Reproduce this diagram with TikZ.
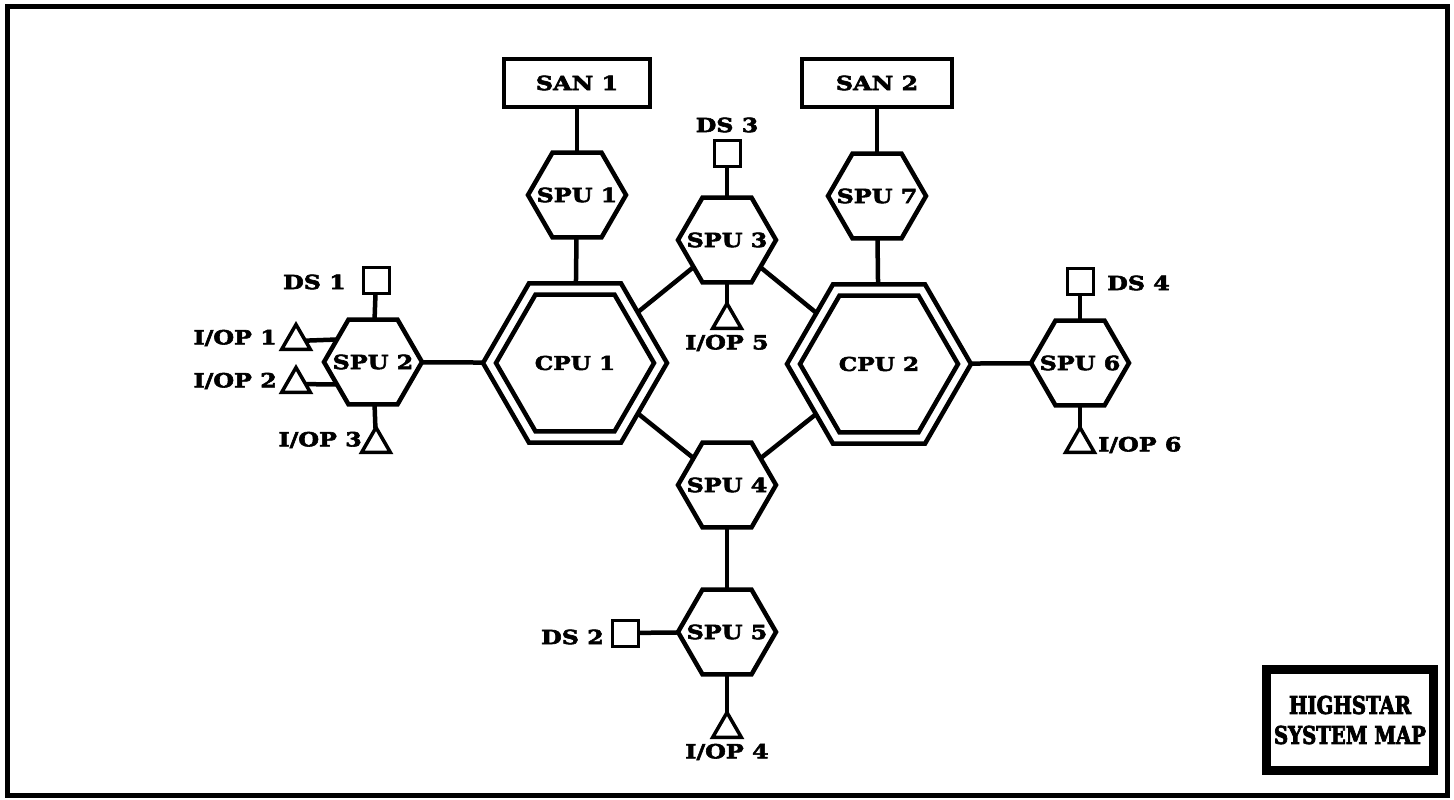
\documentclass[tikz,border=0pt]{standalone}
\usepackage{fontspec}
\setmainfont{DejaVu Serif}[FakeStretch=1.22,BoldFeatures={FakeBold=3}]
\newfontfamily\titlefont{DejaVu Serif}[FakeStretch=0.8,BoldFeatures={FakeBold=3}]
\usetikzlibrary{shapes.geometric}
\begin{document}
\begin{tikzpicture}[x=1pt,y=-1pt,
  hexa/.style={draw, line width=4.5pt, regular polygon, regular polygon sides=6, minimum size=98pt, inner sep=0pt, outer sep=0pt},
  cpuout/.style={hexa, minimum size=184pt},
  cpuin/.style={hexa, minimum size=158pt},
  tri/.style={draw, line width=3.5pt, regular polygon, regular polygon sides=3, minimum size=33pt, inner sep=0pt, outer sep=0pt},
  sq/.style={draw, line width=3pt, minimum size=26pt, inner sep=0pt, outer sep=0pt},
  sanbox/.style={draw, line width=3.5pt, minimum width=146pt, minimum height=48pt, inner sep=0pt, outer sep=0pt},
  lbl/.style={font=\fontsize{19.5}{22}\selectfont\bfseries, inner sep=0pt},
  cpulbl/.style={font=\fontsize{19}{22}\selectfont\bfseries, inner sep=0pt},
  titlebox/.style={draw, line width=9pt, minimum width=167pt, minimum height=101pt, inner sep=2pt, align=center, font=\titlefont\fontsize{24.5}{30}\selectfont\bfseries},
  link/.style={line width=4.5pt}]
\useasboundingbox (0,0) rectangle (1454,800);
\draw[line width=5pt] (7,7) rectangle (1447,795);

% SAN boxes
\node[sanbox] (san1) at (577,83) {};
\node[lbl] at (san1) {SAN 1};
\node[sanbox, minimum width=150pt] (san2) at (877,83) {};
\node[lbl] at (san2) {SAN 2};

% CPUs
\node[cpuout] (cpu1) at (575,363) {};
\node[cpuin] (cpu1i) at (575,363) {};
\node[cpulbl] at (cpu1) {CPU 1};
\node[cpuout] (cpu2) at (879,364) {};
\node[cpuin] (cpu2i) at (879,364) {};
\node[cpulbl] at (cpu2) {CPU 2};

% SPUs
\node[hexa] (spu1) at (577,195) {};
\node[lbl] at (spu1) {SPU 1};
\node[hexa] (spu7) at (877,196) {};
\node[lbl] at (spu7) {SPU 7};
\node[hexa] (spu3) at (727,240) {};
\node[lbl] at (spu3) {SPU 3};
\node[hexa] (spu2) at (373,362) {};
\node[lbl] at (spu2) {SPU 2};
\node[hexa] (spu6) at (1080,363) {};
\node[lbl] at (spu6) {SPU 6};
\node[hexa] (spu4) at (727,485) {};
\node[lbl] at (spu4) {SPU 4};
\node[hexa] (spu5) at (727,632) {};
\node[lbl] at (spu5) {SPU 5};

% DS squares
\node[sq] (ds1) at (376,280) {};
\node[lbl, anchor=east] (ds1l) at (346,282) {DS 1};
\node[sq] (ds2) at (625,633) {};
\node[lbl, anchor=east] (ds2l) at (604,637) {DS 2};
\node[sq] (ds3) at (727,153) {};
\node[lbl] (ds3l) at (727,125) {DS 3};
\node[sq] (ds4) at (1080,281) {};
\node[lbl, anchor=west] (ds4l) at (1107,283) {DS 4};

% I/OP triangles
\node[tri] (io1) at (296,341) {};
\node[lbl, anchor=east] (io1l) at (277,338) {I/OP 1};
\node[tri] (io2) at (296,384) {};
\node[lbl, anchor=east] (io2l) at (277,381) {I/OP 2};
\node[tri] (io3) at (376,444) {};
\node[lbl, anchor=east] (io3l) at (362,440) {I/OP 3};
\node[tri] (io5) at (727,320) {};
\node[lbl] (io5l) at (727,343) {I/OP 5};
\node[tri] (io6) at (1080,444) {};
\node[lbl, anchor=west] (io6l) at (1098,445) {I/OP 6};
\node[tri] (io4) at (727,729) {};
\node[lbl] (io4l) at (727,752) {I/OP 4};

% connectors
\draw[link] (san1) -- (spu1);
\draw[link] (spu1) -- (cpu1);
\draw[link] (san2) -- (spu7);
\draw[link] (spu7) -- (cpu2);
\draw[link] (cpu1) -- (spu3);
\draw[link] (cpu2) -- (spu3);
\draw[link] (cpu1) -- (spu4);
\draw[link] (cpu2) -- (spu4);
\draw[link] (spu2) -- (cpu1);
\draw[link] (cpu2) -- (spu6);
\draw[link] (spu4) -- (spu5);
\draw[link] (ds3) -- (spu3);
\draw[link] (spu3) -- (io5);
\draw[link] (ds1) -- (spu2);
\draw[link] (spu2) -- (io3);
\draw[link] (io1) -- (spu2.148);
\draw[link] (io2) -- (spu2.212);
\draw[link] (ds4) -- (spu6);
\draw[link] (spu6) -- (io6);
\draw[link] (ds2) -- (spu5);
\draw[link] (spu5) -- (io4);

% title
\node[titlebox] (title) at (1350,720) {HIGHSTAR\\SYSTEM MAP};
\end{tikzpicture}
\end{document}
